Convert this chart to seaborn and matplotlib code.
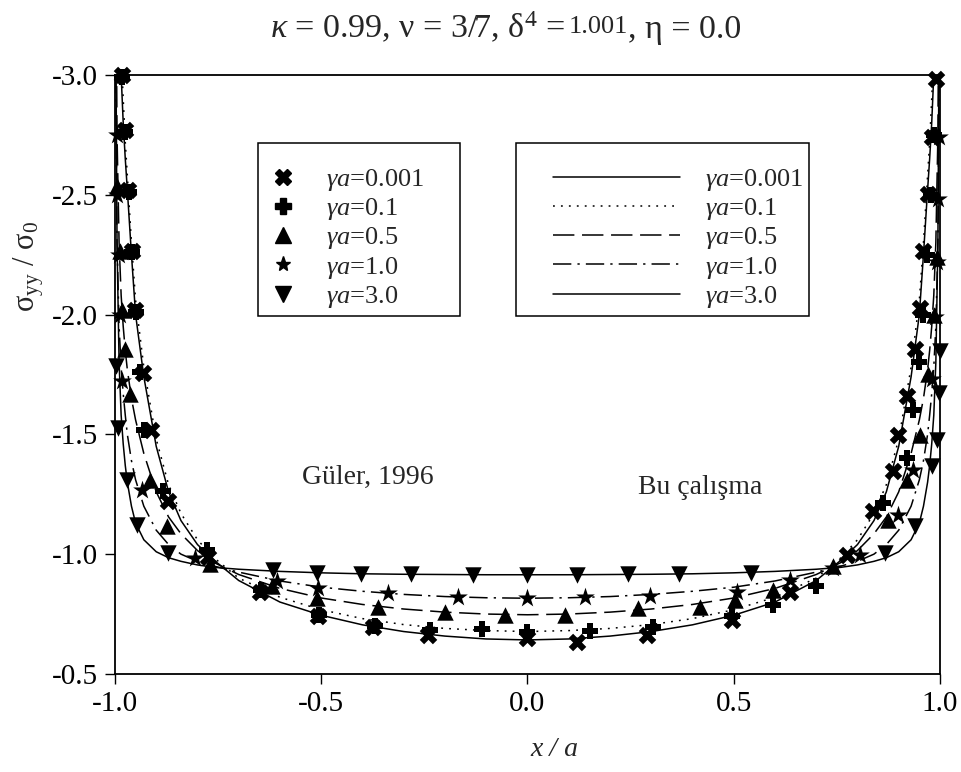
import matplotlib
matplotlib.use("Agg")
import matplotlib.pyplot as plt
from matplotlib.lines import Line2D
from matplotlib.patches import Rectangle
import seaborn as sns

# line results (Bu calisma), x / a grid and sigma_yy / sigma_0 per gamma*a
x_line = [-0.998, -0.995, -0.99, -0.985, -0.98, -0.975, -0.97, -0.96, -0.95, -0.93, -0.9,
          -0.87, -0.84, -0.8, -0.76, -0.7, -0.6, -0.5, -0.4, -0.3, -0.2, -0.1, 0.0,
          0.1, 0.2, 0.3, 0.4, 0.5, 0.6, 0.7, 0.76, 0.8, 0.84, 0.87, 0.9, 0.93, 0.95,
          0.96, 0.97, 0.975, 0.98, 0.985, 0.99, 0.995, 0.998]
line_0001 = [-5.0, -4.0, -3.4, -3.0, -2.8, -2.65, -2.52, -2.25, -2.0, -1.74, -1.45,
             -1.26, -1.14, -1.04, -0.975, -0.89, -0.80, -0.745, -0.705, -0.677, -0.658, -0.646, -0.642,
             -0.646, -0.658, -0.677, -0.705, -0.745, -0.80, -0.89, -0.975, -1.04, -1.14, -1.26, -1.45,
             -1.74, -2.0, -2.25, -2.52, -2.65, -2.8, -3.0, -3.4, -4.0, -5.0]
line_01 = [-5.2, -4.2, -3.5, -3.1, -2.9, -2.72, -2.58, -2.3, -2.06, -1.78, -1.48,
           -1.29, -1.17, -1.06, -0.985, -0.9, -0.82, -0.768, -0.731, -0.706, -0.69, -0.681, -0.677,
           -0.681, -0.69, -0.706, -0.731, -0.768, -0.82, -0.9, -0.985, -1.06, -1.17, -1.29, -1.48,
           -1.78, -2.06, -2.3, -2.58, -2.72, -2.9, -3.1, -3.5, -4.2, -5.2]
line_05 = [-3.6, -2.75, -2.3, -2.08, -1.95, -1.85, -1.77, -1.65, -1.56, -1.42, -1.26,
           -1.155, -1.085, -1.015, -0.965, -0.915, -0.857, -0.817, -0.79, -0.771, -0.758, -0.75, -0.747,
           -0.75, -0.758, -0.771, -0.79, -0.817, -0.857, -0.915, -0.965, -1.015, -1.085, -1.155, -1.26,
           -1.42, -1.56, -1.65, -1.77, -1.85, -1.95, -2.08, -2.3, -2.75, -3.6]
line_10 = [-3.0, -2.3, -1.95, -1.78, -1.67, -1.58, -1.5, -1.39, -1.31, -1.2, -1.1,
           -1.04, -1.0, -0.97, -0.95, -0.925, -0.888, -0.862, -0.845, -0.832, -0.823, -0.818, -0.816,
           -0.818, -0.823, -0.832, -0.845, -0.862, -0.888, -0.925, -0.95, -0.97, -1.0, -1.04, -1.1,
           -1.2, -1.31, -1.39, -1.5, -1.58, -1.67, -1.78, -1.95, -2.3, -3.0]
line_30 = [-3.2, -2.3, -1.8, -1.58, -1.46, -1.37, -1.3, -1.2, -1.13, -1.06, -1.01,
           -0.985, -0.97, -0.955, -0.945, -0.937, -0.928, -0.922, -0.918, -0.916, -0.915, -0.914, -0.914,
           -0.914, -0.915, -0.916, -0.918, -0.922, -0.928, -0.937, -0.945, -0.955, -0.97, -0.985, -1.01,
           -1.06, -1.13, -1.2, -1.3, -1.37, -1.46, -1.58, -1.8, -2.3, -3.2]

# marker results (Guler, 1996)
x_m0001 = [-0.984, -0.976, -0.968, -0.958, -0.952, -0.931, -0.912, -0.871, -0.775, -0.648, -0.507,
           -0.374, -0.24, 0.0, 0.119, 0.289, 0.495, 0.636, 0.774, 0.838, 0.885, 0.899, 0.919,
           0.939, 0.951, 0.958, 0.97, 0.98, 0.99]
y_m0001 = [-3.0, -2.77, -2.52, -2.265, -2.02, -1.757, -1.52, -1.22, -0.99, -0.844, -0.74,
           -0.695, -0.663, -0.651, -0.635, -0.663, -0.726, -0.844, -0.997, -1.179, -1.346, -1.499, -1.659,
           -1.855, -2.029, -2.266, -2.502, -2.74, -2.983]
x_m01 = [-0.984, -0.976, -0.966, -0.958, -0.95, -0.94, -0.93, -0.883, -0.778, -0.645, -0.505,
         -0.37, -0.236, -0.111, 0.0, 0.152, 0.305, 0.495, 0.596, 0.70, 0.863, 0.919, 0.935,
         0.948, 0.958, 0.968, 0.978, 0.986]
y_m01 = [-2.99, -2.76, -2.51, -2.26, -2.01, -1.76, -1.52, -1.262, -1.018, -0.85, -0.745,
         -0.70, -0.684, -0.687, -0.675, -0.681, -0.698, -0.74, -0.788, -0.868, -1.214, -1.402, -1.6,
         -1.8, -2.0, -2.25, -2.5, -2.75]
x_m05 = [-0.996, -0.988, -0.984, -0.975, -0.964, -0.915, -0.875, -0.77, -0.62, -0.511, -0.362,
         -0.2, -0.055, 0.091, 0.269, 0.418, 0.503, 0.596, 0.74, 0.875, 0.919, 0.951, 0.97,
         0.985, 0.992]
y_m05 = [-2.537, -2.266, -2.02, -1.855, -1.67, -1.311, -1.116, -0.96, -0.865, -0.816, -0.779,
         -0.76, -0.747, -0.747, -0.775, -0.779, -0.809, -0.851, -0.95, -1.144, -1.311, -1.499, -1.75,
         -2.0, -2.24]
x_m10 = [-0.996, -0.994, -0.991, -0.988, -0.984, -0.935, -0.806, -0.608, -0.507, -0.337, -0.168,
         0.0, 0.139, 0.297, 0.507, 0.636, 0.741, 0.806, 0.899, 0.935, 0.98, 0.988, 0.992,
         0.995, 0.997]
y_m10 = [-2.75, -2.5, -2.25, -2.0, -1.722, -1.269, -0.984, -0.886, -0.858, -0.837, -0.82,
         -0.816, -0.82, -0.826, -0.844, -0.893, -0.942, -0.997, -1.165, -1.353, -1.73, -1.99, -2.22,
         -2.48, -2.74]
x_m30 = [-0.998, -0.992, -0.972, -0.947, -0.871, -0.616, -0.51, -0.404, -0.283, -0.131, 0.0,
         0.121, 0.244, 0.368, 0.543, 0.867, 0.939, 0.98, 0.992, 0.998, 0.999]
y_m30 = [-1.785, -1.527, -1.31, -1.123, -1.005, -0.932, -0.921, -0.918, -0.918, -0.914, -0.914,
         -0.914, -0.916, -0.916, -0.92, -1.005, -1.116, -1.367, -1.478, -1.673, -1.847]

labels = ["0.001", "0.1", "0.5", "1.0", "3.0"]
x_ticks = [-1.0, -0.5, 0.0, 0.5, 1.0]
y_ticks = [-3.0, -2.5, -2.0, -1.5, -1.0, -0.5]

sns.set_style("ticks")
plt.rcParams["font.family"] = ["Liberation Serif", "DejaVu Serif"]
plt.rcParams["mathtext.fontset"] = "custom"
plt.rcParams["mathtext.rm"] = "Liberation Serif"
plt.rcParams["mathtext.it"] = "Liberation Serif:italic"
plt.rcParams["font.size"] = 20

fig = plt.figure(figsize=(9.62, 7.72), dpi=100)
ax = fig.add_axes([0.1195, 0.127, 0.8576, 0.776])

line_styles = ["-", (0, (1.2, 4)), (0, (14, 5)), (0, (12, 4, 1.5, 4)), "-"]
line_data = [line_0001, line_01, line_05, line_10, line_30]
for yv, ls in zip(line_data, line_styles):
    sns.lineplot(x=x_line, y=yv, ax=ax, color="black", lw=1.1, linestyle=ls,
                 estimator=None, sort=False)

marker_shapes = ["X", "P", "^", "*", "v"]
marker_sizes = [160, 120, 140, 200, 140]
marker_data = [(x_m0001, y_m0001), (x_m01, y_m01), (x_m05, y_m05),
               (x_m10, y_m10), (x_m30, y_m30)]
for (xv, yv), mk, sz in zip(marker_data, marker_shapes, marker_sizes):
    sns.scatterplot(x=xv, y=yv, ax=ax, marker=mk, s=sz, color="black",
                    edgecolor="black", linewidth=0, clip_on=False, zorder=3)

ax.set_xlim(-1.0, 1.0)
ax.set_ylim(-0.5, -3.0)
ax.set_xticks(x_ticks)
ax.set_yticks(y_ticks)
ax.set_xticklabels([f"{v:.1f}" for v in x_ticks])
ax.set_yticklabels([f"{v:.1f}" for v in y_ticks])
ax.tick_params(direction="out", length=7, width=1, colors="black", labelsize=21, pad=5)
for sp in ax.spines.values():
    sp.set_visible(True)
    sp.set_color("black")
    sp.set_linewidth(1.3)

ax.set_xlabel("x / a", fontstyle="italic", fontsize=20)
ax.set_ylabel(r"σ$_\mathrm{yy}$ / σ$_0$", fontsize=22)
ax.xaxis.set_label_coords(0.533, -0.105)
ax.yaxis.set_label_coords(-0.083, 0.68)

# title in pieces so that 1.001 is set smaller
t1 = fig.text(0.281, 0.951, r"$\kappa$ = 0.99, ν = 3/7, δ$^4$ = ", ha="left",
              va="baseline", fontsize=24.5)
t2 = ax.annotate("1.001", xy=(1, 0), xycoords=t1, xytext=(2, 7), textcoords="offset pixels",
                 fontsize=19, va="bottom", ha="left", annotation_clip=False)
t3 = ax.annotate(", η = 0.0", xy=(1, 0), xycoords=t2, xytext=(0, -7), textcoords="offset pixels",
                 fontsize=24.5, va="bottom", ha="left", annotation_clip=False)

ax.text(-0.387, -1.32, "Güler, 1996", ha="center", va="center", fontsize=20)
ax.text(0.418, -1.28, "Bu çalışma", ha="center", va="center", fontsize=20)

# legend boxes
ax.add_patch(Rectangle((0.1733, 0.5977), 0.2448, 0.2888, transform=ax.transAxes,
                       fill=True, facecolor="white", edgecolor="black", lw=1.1, zorder=4))
ax.add_patch(Rectangle((0.4861, 0.5977), 0.3555, 0.2888, transform=ax.transAxes,
                       fill=True, facecolor="white", edgecolor="black", lw=1.1, zorder=4))

mk_handles = [Line2D([], [], ls="none", marker=m, color="black", markersize=11)
              for m in marker_shapes]
ln_handles = [Line2D([], [], ls=ls, color="black", lw=1.1) for ls in line_styles]
leg_labels = [r"$\gamma a$=" + v for v in labels]

leg1 = ax.legend(mk_handles, leg_labels, loc="upper left", bbox_to_anchor=(0.197, 0.846),
                 frameon=False, handlelength=0.4, handletextpad=1.45, borderpad=0,
                 labelspacing=0.12, fontsize=19, borderaxespad=0)
leg1.set_zorder(5)
ax.add_artist(leg1)
leg2 = ax.legend(ln_handles, leg_labels, loc="upper left", bbox_to_anchor=(0.531, 0.846),
                 frameon=False, handlelength=4.8, handletextpad=0.95, borderpad=0,
                 labelspacing=0.12, fontsize=19, borderaxespad=0)
leg2.set_zorder(5)

fig.savefig("out.png", dpi=100)
